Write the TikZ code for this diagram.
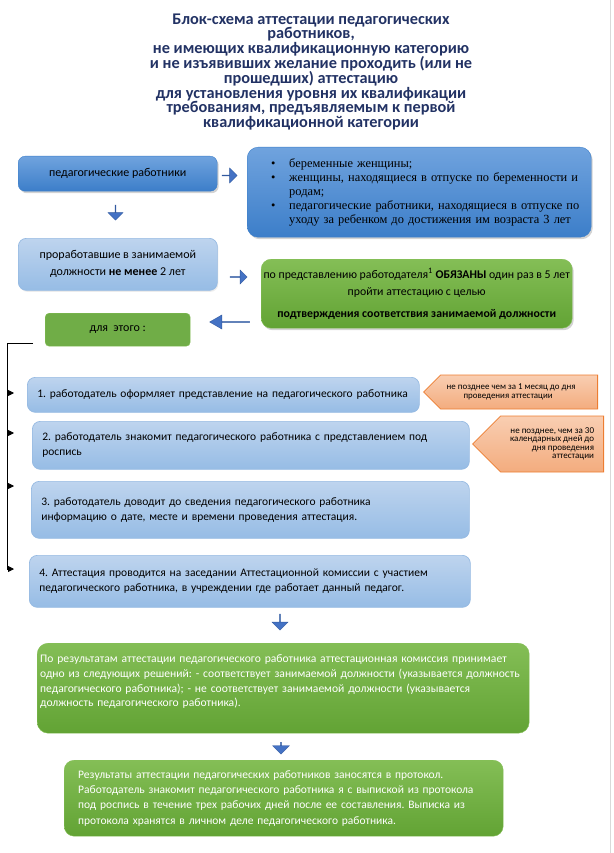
\documentclass[tikz,border=0pt]{standalone}
\usepackage{fontspec}
\setmainfont{Carlito}
\newfontfamily\timesfont{Liberation Serif}
\usetikzlibrary{positioning}
\usetikzlibrary{shapes.arrows}
\usetikzlibrary{shapes.symbols}
\usetikzlibrary{shadows}
\usetikzlibrary{arrows.meta}
\frenchspacing

\definecolor{titleblue}{RGB}{34,50,100}
\definecolor{darktop}{RGB}{112,163,222}
\definecolor{darkbot}{RGB}{60,126,201}
\definecolor{lighttop}{RGB}{190,212,238}
\definecolor{lightbot}{RGB}{150,188,229}
\definecolor{lightedge}{RGB}{150,186,226}
\definecolor{greentop}{RGB}{132,190,86}
\definecolor{greenbot}{RGB}{98,163,52}
\definecolor{greenflat}{RGB}{112,173,71}
\definecolor{notetop}{RGB}{249,206,178}
\definecolor{notebot}{RGB}{243,172,126}
\definecolor{noteedge}{RGB}{237,125,49}
\definecolor{arrowblue}{RGB}{68,114,196}
\definecolor{arrowedge}{RGB}{50,90,160}

\newcommand{\bul}{\hspace*{17pt}\makebox[18pt][l]{\textbullet}}
\newcommand{\bulgap}{\hspace*{35pt}}

\tikzset{
  plate/.style={anchor=north west, inner ysep=0pt},
  headline/.style={align=center, text=titleblue, font=\fontsize{16.3}{14.8}\selectfont\bfseries},
  darkbox/.style={plate, rounded corners=7pt, top color=darktop, bottom color=darkbot, draw=darkbot,
    drop shadow={opacity=0.35, shadow xshift=1.5pt, shadow yshift=-2pt}},
  lightbox/.style={plate, rounded corners=8pt, top color=lighttop, bottom color=lightbot, draw=lightedge,
    line width=0.7pt, inner xsep=10pt, align=left, font=\fontsize{11.5}{15}\selectfont},
  greenbox/.style={plate, rounded corners=11pt, top color=greentop, bottom color=greenbot, draw=greentop},
  notebox/.style={signal, signal to=west, signal from=nowhere, signal pointer angle=90,
    top color=notetop, bottom color=notebot, draw=noteedge, line width=0.8pt, inner sep=2pt},
  blockarrow/.style={single arrow, fill=arrowblue, draw=arrowedge, line width=0.4pt, inner sep=0pt,
    single arrow head extend=4pt}
}

\begin{document}
\begin{tikzpicture}[x=1pt, y=-1pt]
\useasboundingbox (0,0) rectangle (613,853);
\draw[gray!30, line width=1pt] (610,0) -- (610,853);

% title
\node[headline] (head) at (311,72) {Блок-схема аттестации педагогических\\работников,\\не имеющих квалификационную категорию\\и не изъявивших желание проходить (или не\\прошедших) аттестацию\\для установления уровня их квалификации\\требованиям, предъявляемым к первой\\квалификационной категории};

% who is concerned
\node[darkbox, minimum width=199pt, minimum height=35pt, font=\fontsize{12}{15}\selectfont] (staff) at (18,156) {педагогические работники};
\node[darkbox, rounded corners=11pt, minimum width=344pt, minimum height=90pt, text width=330pt, inner xsep=7pt, align=left,
  font=\timesfont\fontsize{12.4}{14}\selectfont] (exempt) at (247,147) {%
  \bul беременные женщины;\\
  \bul женщины, находящиеся в отпуске по беременности и\\
  \bulgap родам;\\
  \bul педагогические работники, находящиеся в отпуске по\\
  \bulgap уходу за ребенком до достижения им возраста 3 лет};
\node[lightbox, align=center, minimum width=199pt, minimum height=52pt, font=\fontsize{12}{17}\selectfont,
  drop shadow={opacity=0.15, shadow xshift=1pt, shadow yshift=-1.5pt}] (worked) at (18,238)
  {проработавшие в занимаемой\\должности \textbf{не менее} 2 лет};
\node[greenbox, rounded corners=10pt, minimum width=311pt, minimum height=69pt, inner xsep=1pt, align=center,
  font=\fontsize{11.8}{17}\selectfont,
  drop shadow={opacity=0.35, shadow xshift=1.5pt, shadow yshift=-2pt}] (duty) at (261,259)
  {по представлению работодателя\textsuperscript{1} \textbf{ОБЯЗАНЫ} один раз в 5 лет\\пройти аттестацию с целью\\[5pt]
  \textbf{подтверждения соответствия занимаемой должности}};
\node[plate, rounded corners=4pt, fill=greenflat, draw=greentop, minimum width=145pt, minimum height=33pt,
  font=\fontsize{12}{15}\selectfont] (forit) at (45,313) {для\ \ этого :};

\node[blockarrow, minimum height=15pt, minimum width=15pt] (a1) at (229.5,175.5) {};
\node[blockarrow, shape border rotate=270, minimum height=15pt, minimum width=15pt] (a2) at (115.5,212.5) {};
\node[blockarrow, minimum height=17pt, minimum width=14pt] (a3) at (238.5,277) {};
\node[blockarrow, shape border rotate=180, minimum height=40pt, minimum width=14pt, single arrow head extend=3.5pt,
  single arrow tip angle=60] (a4) at (230,322) {};

% steps
\node[lightbox, minimum width=392pt, minimum height=35pt, text width=372pt] (step1) at (27,377)
  {1. работодатель оформляет представление на педагогического работника};
\node[lightbox, minimum width=437pt, minimum height=48pt, text width=417pt] (step2) at (32,421)
  {2. работодатель знакомит педагогического работника с представлением под\\роспись};
\node[lightbox, minimum width=438pt, minimum height=57pt, text width=418pt] (step3) at (31,481)
  {3. работодатель доводит до сведения педагогического работника\\информацию о дате, месте и времени проведения аттестация.};
\node[lightbox, minimum width=441pt, minimum height=52pt, text width=421pt] (step4) at (29,555)
  {4. Аттестация проводится на заседании Аттестационной комиссии с участием\\педагогического работника, в учреждении где работает данный педагог.};

\node[notebox, anchor=east, minimum width=174pt, minimum height=34pt, align=center,
  font=\fontsize{8.9}{8.4}\selectfont] (term1) at (598,392)
  {не позднее чем за 1 месяц до дня\hspace*{16pt}\\проведения аттестации\hspace*{22pt}};
\node[notebox, anchor=east, minimum width=131pt, minimum height=56pt, align=right,
  font=\fontsize{9}{8.4}\selectfont] (term2) at (604,444)
  {не позднее, чем за 30\\календарных дней до\\дня проведения\\аттестации};

% bracket to the steps
\coordinate (top) at (33,343);
\coordinate (corner) at (7,343);
\coordinate (bottom) at (7,569);
\draw[line width=0.8pt] (top) -- (corner) -- (bottom);
\foreach \yy in {393,433,486,569}
  \draw[line width=0.8pt, -{Triangle[length=6pt, width=6pt]}] (7,\yy) -- (14,\yy);

% results
\node[blockarrow, shape border rotate=270, minimum height=16pt, minimum width=16pt] (a5) at (280,622) {};
\node[greenbox, minimum width=492pt, minimum height=90pt, text width=486pt, inner xsep=3pt, align=left,
  text=white, font=\fontsize{11.6}{14.7}\selectfont] (verdict) at (37,643)
  {По результатам аттестации педагогического работника аттестационная комиссия принимает\\
  одно из следующих решений: - соответствует занимаемой должности (указывается должность\\
  педагогического работника); - не соответствует занимаемой должности (указывается\\
  должность педагогического работника).\\ \mbox{}};
\node[blockarrow, shape border rotate=270, minimum height=12pt, minimum width=17pt] (a6) at (281,748) {};
\node[greenbox, rounded corners=10pt, minimum width=439pt, minimum height=76pt, text width=411pt, inner xsep=14pt, align=left,
  text=white, font=\fontsize{11.5}{15.3}\selectfont] (record) at (64,760)
  {Результаты аттестации педагогических работников заносятся в протокол.\\
  Работодатель знакомит педагогического работника я с выпиской из протокола\\
  под роспись в течение трех рабочих дней после ее составления. Выписка из\\
  протокола хранятся в личном деле педагогического работника.};
\end{tikzpicture}
\end{document}
